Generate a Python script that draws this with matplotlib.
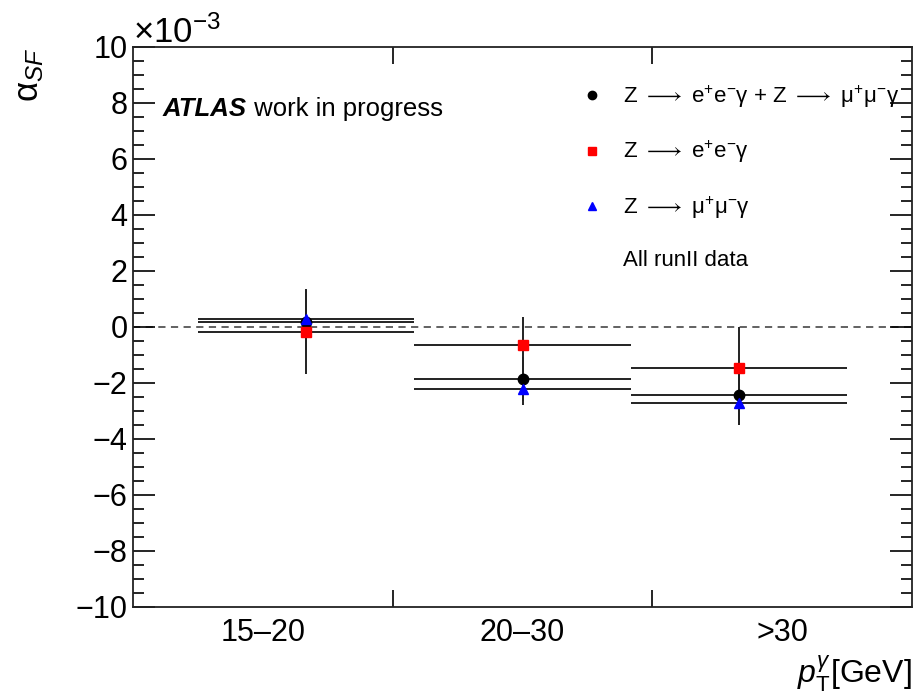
import numpy as np
import matplotlib
matplotlib.use("Agg")
import matplotlib.pyplot as plt
from matplotlib.lines import Line2D

plt.rcParams["font.family"] = ["Liberation Sans", "DejaVu Sans"]
plt.rcParams["mathtext.fontset"] = "custom"
plt.rcParams["mathtext.rm"] = "Liberation Sans"
plt.rcParams["mathtext.it"] = "Liberation Sans:italic"
plt.rcParams["mathtext.bf"] = "Liberation Sans:bold"
plt.rcParams["mathtext.fallback"] = "stixsans"

# pT bins and graph points (alpha_SF in units of 1e-3)
bin_labels = ["15\u201320", "20\u201330", ">30"]
x_pts = np.array([2 / 3, 1.5, 7 / 3])
x_err = np.array([0.417, 0.417, 0.417])

comb_val = np.array([0.17, -1.86, -2.43])
comb_err = np.array([1.0, 0.8, 1.07])
ee_val = np.array([-0.19, -0.64, -1.48])
ee_err = np.array([1.5, 1.0, 1.48])
mm_val = np.array([0.27, -2.21, -2.70])
mm_err = np.array([1.1, 0.58, 0.8])

arr = " $\\longrightarrow$ "
lab_comb = ("Z" + arr + "e$^{+}$e$^{-}$\u03b3 + Z" + arr
            + "\u03bc$^{+}$\u03bc$^{-}$\u03b3")
lab_ee = "Z" + arr + "e$^{+}$e$^{-}$\u03b3"
lab_mm = "Z" + arr + "\u03bc$^{+}$\u03bc$^{-}$\u03b3"

fig = plt.figure(figsize=(9.19, 6.95), dpi=100)
ax = fig.add_axes([133 / 919, 88 / 695, 779 / 919, 560 / 695])

ax.axhline(0, color="#555555", linestyle=(0, (4, 3)), linewidth=1.3, zorder=1)

ax.errorbar(x_pts, comb_val, xerr=x_err, yerr=comb_err, fmt="o", color="black",
            ecolor="#222222", elinewidth=1.4, markersize=7.5, capsize=0, zorder=3)
ax.errorbar(x_pts, ee_val, xerr=x_err, yerr=ee_err, fmt="s", color="red",
            ecolor="#222222", elinewidth=1.4, markersize=7, capsize=0, zorder=3)
ax.errorbar(x_pts, mm_val, xerr=x_err, yerr=mm_err, fmt="^", color="blue",
            ecolor="#222222", elinewidth=1.4, markersize=7.5, capsize=0, zorder=3)

ax.set_xlim(0, 3)
ax.set_ylim(-10, 10)
ax.set_yticks(np.arange(-10, 11, 2))
ax.set_yticks(np.arange(-10, 10.1, 0.5), minor=True)
ax.set_xticks([1, 2])
ax.set_xticklabels([])
ax.set_xticks([0.5, 1.5, 2.5], minor=True)
ax.set_xticklabels(bin_labels, minor=True)

ax.tick_params(axis="y", which="major", direction="in", length=16, width=1.2,
               left=True, right=True, labelsize=22, pad=4)
ax.tick_params(axis="y", which="minor", direction="in", length=8, width=1.2,
               left=True, right=True)
ax.tick_params(axis="x", which="major", direction="in", length=12, width=1.2,
               top=True, bottom=True)
ax.tick_params(axis="x", which="minor", length=0, labelsize=22, pad=8)
for s in ax.spines.values():
    s.set_linewidth(1.3)
    s.set_color("#222222")

ax.text(0, 0.995, "\u00d710$^{-3}$", transform=ax.transAxes, ha="left", va="bottom",
        fontsize=25)

ax.set_ylabel("\u03b1$_{SF}$", fontsize=25, loc="top")
ax.yaxis.set_label_coords(-0.112, 1.0)
ax.set_xlabel("$p_{\\mathrm{T}}^{\\gamma}$[GeV]", fontsize=23, loc="right")

t = ax.text(0.0385, 0.877, "ATLAS", transform=ax.transAxes, fontsize=18.5,
            fontweight="bold", fontstyle="italic", va="baseline")
ax.annotate(" work in progress", xy=(1, 0), xycoords=t, fontsize=18.5,
            va="bottom", ha="left")

handles = [
    Line2D([], [], marker="o", color="black", linestyle="none", markersize=6),
    Line2D([], [], marker="s", color="red", linestyle="none", markersize=5.5),
    Line2D([], [], marker="^", color="blue", linestyle="none", markersize=6),
    Line2D([], [], linestyle="none"),
]
labels = [lab_comb, lab_ee, lab_mm, "All runII data"]
ax.legend(handles, labels, loc="upper left", bbox_to_anchor=(0.575, 0.935),
          frameon=False, fontsize=16, labelspacing=1.3, handlelength=1.0,
          handletextpad=0.9, borderpad=0, borderaxespad=0)

fig.savefig("out.png", dpi=100)
